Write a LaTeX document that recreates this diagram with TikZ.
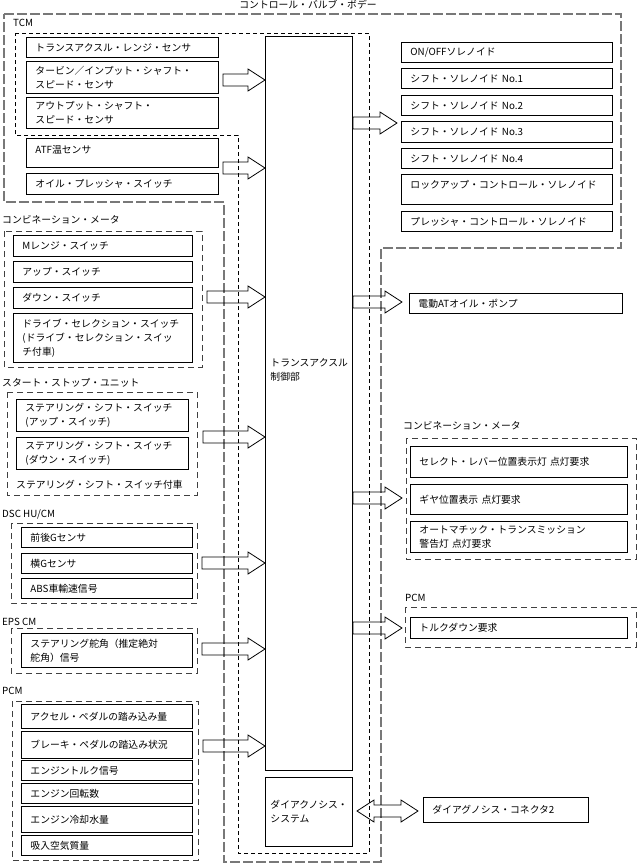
\documentclass[tikz,border=0pt]{standalone}
\usepackage{fontspec}
\setmainfont{Noto Sans CJK JP}
\usetikzlibrary{calc}
\definecolor{vbgray}{RGB}{120,120,120}
\tikzset{
  box/.style={draw, line width=.9pt, anchor=north west, inner xsep=9pt, inner ysep=0pt, align=left},
  grp/.style={draw=black!75, line width=.9pt, dash pattern=on 6pt off 4pt},
  tcmline/.style={draw, line width=.8pt, dash pattern=on 4pt off 3pt},
  vbline/.style={draw=vbgray, line width=1.3pt, dash pattern=on 10pt off 3pt},
  lbl/.style={anchor=west, inner sep=0pt},
  blkarr/.style={draw, line width=.8pt, line join=miter}
}
\newcommand{\blkarr}[2]{\draw[blkarr] let \p1=(#1), \p2=(#2) in
  (\x1,\y1+6pt) -- (\x2-17pt,\y1+6pt) -- (\x2-17pt,\y1+11pt) -- (\x2,\y1)
  -- (\x2-17pt,\y1-11pt) -- (\x2-17pt,\y1-6pt) -- (\x1,\y1-6pt) -- cycle;}

\begin{document}
\begin{tikzpicture}[x=1pt,y=-1pt,font=\fontsize{9.8}{14}\selectfont]
\useasboundingbox (0,0) rectangle (637,863);

\draw[vbline] (4,14) -- (621,14) -- (621,248) -- (381,248) -- (381,862) -- (224,862) -- (224,202) -- (4,202) -- cycle;
\node (vbL) at (308,5) {コントロール・バルブ・ボデー};
\draw[tcmline] (15,33) -- (369,33) -- (369,853) -- (238,853) -- (238,135) -- (15,135) -- cycle;
\node[lbl] (tcmL) at (13,23) {TCM};

\node[box, text width=174pt, minimum height=20pt] (rng) at (26,37) {トランスアクスル・レンジ・センサ};
\node[box, text width=174pt, minimum height=32pt] (tss) at (26,61) {タービン／インプット・シャフト・\\スピード・センサ};
\node[box, text width=174pt, minimum height=31pt] (oss) at (26,97) {アウトプット・シャフト・\\スピード・センサ};
\node[box, text width=174pt, minimum height=29pt, text depth=7pt] (atf) at (26,138) {ATF温センサ};
\node[box, text width=174pt, minimum height=21pt] (ops) at (26,173) {オイル・プレッシャ・スイッチ};

\node[box, inner xsep=5pt, text width=77pt, minimum height=734pt, text depth=82pt] (ctrl) at (265,36) {トランスアクスル\\制御部};
\node[box, inner xsep=5pt, text width=77pt, minimum height=69pt] (diag) at (265,777) {ダイアクノシス・\\システム};

\node[box, text width=193pt, minimum height=20pt] (sol0) at (401,42) {ON/OFFソレノイド};
\node[box, text width=193pt, minimum height=20pt] (sol1) at (401,68) {シフト・ソレノイド No.1};
\node[box, text width=193pt, minimum height=20pt] (sol2) at (401,95) {シフト・ソレノイド No.2};
\node[box, text width=193pt, minimum height=21pt] (sol3) at (401,121) {シフト・ソレノイド No.3};
\node[box, text width=193pt, minimum height=20pt] (sol4) at (401,148) {シフト・ソレノイド No.4};
\node[box, text width=193pt, minimum height=30pt, text depth=10pt] (lup) at (401,174) {ロックアップ・コントロール・ソレノイド};
\node[box, text width=193pt, minimum height=20pt] (prs) at (401,211) {プレッシャ・コントロール・ソレノイド};

\node[lbl] (cmL) at (2,220) {コンビネーション・メータ};
\draw[grp] (4,231) rectangle (202,367);
\node[box, text width=161pt, minimum height=21pt] (mrng) at (13,235) {Mレンジ・スイッチ};
\node[box, text width=161pt, minimum height=21pt] (up) at (13,261) {アップ・スイッチ};
\node[box, text width=161pt, minimum height=21pt] (dn) at (13,287) {ダウン・スイッチ};
\node[box, text width=161pt, minimum height=49pt] (drv) at (13,313) {ドライブ・セレクション・スイッチ\\(ドライブ・セレクション・スイッ\\チ付車)};

\node[lbl] (ssL) at (2,383) {スタート・ストップ・ユニット};
\draw[grp] (7,392) rectangle (197,495);
\node[box, text width=154pt, minimum height=32pt] (ssu) at (16,399) {ステアリング・シフト・スイッチ\\(アップ・スイッチ)};
\node[box, text width=154pt, minimum height=32pt] (ssd) at (16,437) {ステアリング・シフト・スイッチ\\(ダウン・スイッチ)};
\node[lbl] (ssN) at (16,485) {ステアリング・シフト・スイッチ付車};

\node[lbl] (dscL) at (2,514) {DSC HU/CM};
\draw[grp] (11,523) rectangle (197,603);
\node[box, text width=153pt, minimum height=20pt] (gx) at (21,527) {前後Gセンサ};
\node[box, text width=153pt, minimum height=20pt] (gy) at (21,553) {横Gセンサ};
\node[box, text width=153pt, minimum height=20pt] (abs) at (21,578) {ABS車輸速信号};

\node[lbl] (epsL) at (2,622) {EPS CM};
\draw[grp] (11,628) rectangle (197,673);
\node[box, text width=153pt, minimum height=34pt] (str) at (21,633) {ステアリング舵角（推定絶対\\舵角）信号};

\node[lbl] (pcmL) at (2,691) {PCM};
\draw[grp] (12,701) rectangle (198,860);
\node[box, text width=153pt, minimum height=24pt] (acc) at (21,704) {アクセル・ペダルの踏み込み量};
\node[box, text width=153pt, minimum height=27pt] (brk) at (21,731) {ブレーキ・ペダルの踏込み状況};
\node[box, text width=153pt, minimum height=20pt] (trq) at (21,760) {エンジントルク信号};
\node[box, text width=153pt, minimum height=20pt] (rpm) at (21,783) {エンジン回転数};
\node[box, text width=153pt, minimum height=26pt] (ect) at (21,806) {エンジン冷却水量};
\node[box, text width=153pt, minimum height=20pt] (maf) at (21,835) {吸入空気質量};

\node[box, text width=195pt, minimum height=20pt] (pump) at (409,293) {電動ATオイル・ポンプ};

\node[lbl] (cmRL) at (403,426) {コンビネーション・メータ};
\draw[grp] (406,438) rectangle (636,559);
\node[box, text width=199pt, minimum height=31pt] (sel) at (410,446) {セレクト・レバー位置表示灯 点灯要求};
\node[box, text width=199pt, minimum height=30pt] (gear) at (410,484) {ギヤ位置表示 点灯要求};
\node[box, text width=199pt, minimum height=31pt] (warn) at (410,521) {オートマチック・トランスミッション\\警告灯 点灯要求};

\node[lbl] (pcmRL) at (405,598) {PCM};
\draw[grp] (405,607) rectangle (636,647);
\node[box, text width=199pt, minimum height=21pt] (tqd) at (410,617) {トルクダウン要求};

\node[box, text width=147pt, minimum height=25pt] (dlc) at (423,797) {ダイアグノシス・コネクタ2};

\coordinate (a1) at (223,80);
\coordinate (a2) at (223,168);
\coordinate (a3) at (207,297);
\coordinate (a4) at (203,437);
\coordinate (a5) at (202,563);
\coordinate (a6) at (202,649);
\coordinate (a7) at (203,746);
\blkarr{a1}{ctrl.west |- a1}
\blkarr{a2}{ctrl.west |- a2}
\blkarr{a3}{ctrl.west |- a3}
\blkarr{a4}{ctrl.west |- a4}
\blkarr{a5}{ctrl.west |- a5}
\blkarr{a6}{ctrl.west |- a6}
\blkarr{a7}{ctrl.west |- a7}

\coordinate (b1) at (397,123);
\blkarr{ctrl.east |- b1}{b1}
\coordinate (b2) at (402,302);
\blkarr{ctrl.east |- b2}{b2}
\coordinate (b3) at (402,498);
\blkarr{ctrl.east |- b3}{b3}
\coordinate (b4) at (402,628);
\blkarr{ctrl.east |- b4}{b4}

\coordinate (d1) at (357,811);
\coordinate (d2) at (418,811);
\draw[blkarr] let \p1=(d1), \p2=(d2) in
  (\x1,\y1) -- (\x1+17pt,\y1-11pt) -- (\x1+17pt,\y1-6pt) -- (\x2-17pt,\y1-6pt) -- (\x2-17pt,\y1-11pt)
  -- (\x2,\y1) -- (\x2-17pt,\y1+11pt) -- (\x2-17pt,\y1+6pt) -- (\x1+17pt,\y1+6pt) -- (\x1+17pt,\y1+11pt) -- cycle;
\end{tikzpicture}
\end{document}
